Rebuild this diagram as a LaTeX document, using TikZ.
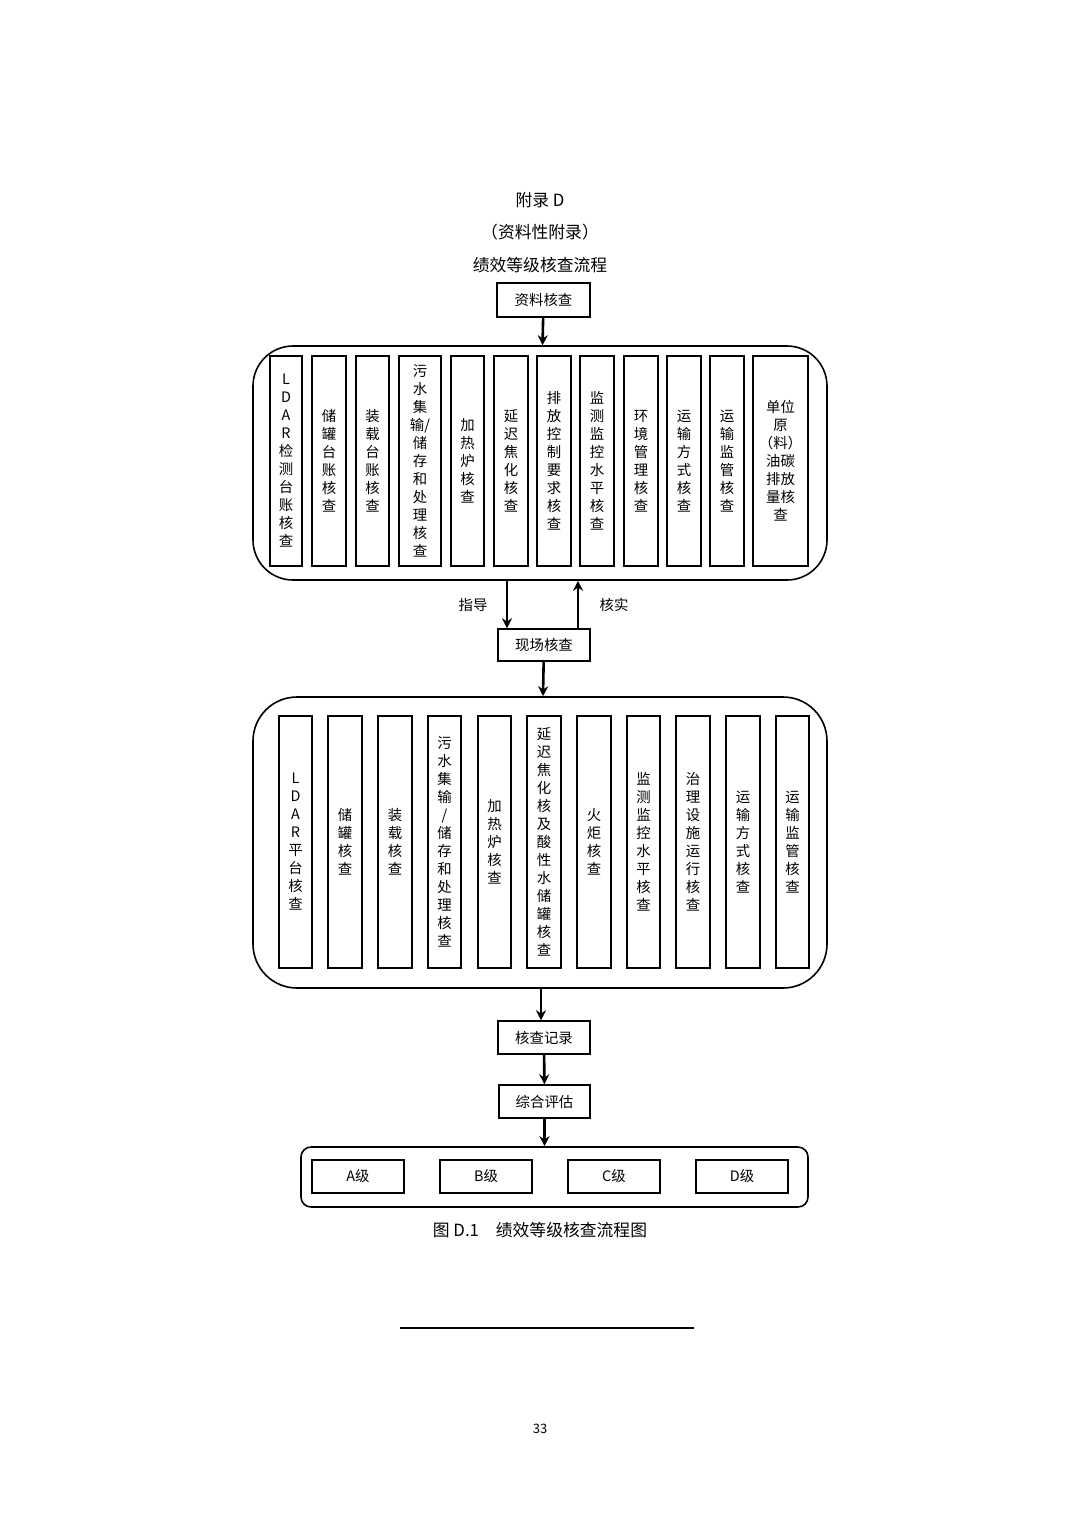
\documentclass[tikz,border=0pt]{standalone}
\usepackage{fontspec}
\setmainfont{Noto Sans CJK SC}
\usepackage{tikz}
\usetikzlibrary{arrows.meta}

\tikzset{
  box/.style={draw, line width=0.7pt, inner sep=0pt, font=\fontsize{7.2pt}{9pt}\selectfont},
  col/.style={box, align=center, text width=9pt},
  frame/.style={draw, line width=0.8pt, inner sep=0pt},
  arr/.style={line width=1.3pt, -{Stealth[length=5pt,width=5pt]}},
}

\begin{document}
\begin{tikzpicture}[x=0.5pt,y=-0.5pt]
\useasboundingbox (0,0) rectangle (1080,1527);

% titles
\node[font=\fontsize{8.4pt}{10pt}\selectfont] (ttl1) at (540,200) {附录 D};
\node[font=\fontsize{8.4pt}{10pt}\selectfont] (ttl2) at (540,232) {（资料性附录）};
\node[font=\fontsize{8.4pt}{10pt}\selectfont] (ttl3) at (540,265) {绩效等级核查流程};

% document check
\node[box, minimum width=46.5pt, minimum height=17pt] (ziliao) at (543.5,300) {资料核查};

% first group
\node[frame, rounded corners=20pt, minimum width=287pt, minimum height=117pt] (topbox) at (540,463) {};
\foreach \l/\r/\t [count=\i] in {
  270/302/{L\\D\\A\\R\\检\\测\\台\\账\\核\\查},
  312/346/{储\\罐\\台\\账\\核\\查},
  356/389/{装\\载\\台\\账\\核\\查},
  399/441/{污\\水\\集\\输/\\储\\存\\和\\处\\理\\核\\查},
  451/484/{加\\热\\炉\\核\\查},
  494/528/{延\\迟\\焦\\化\\核\\查},
  537/571/{排\\放\\控\\制\\要\\求\\核\\查},
  580/614/{监\\测\\监\\控\\水\\平\\核\\查},
  624/658/{环\\境\\管\\理\\核\\查},
  667/701/{运\\输\\方\\式\\核\\查},
  710/744/{运\\输\\监\\管\\核\\查},
  753/808/{单位\\原\\（料）\\油碳\\排放\\量核\\查}}
  \node[col, minimum width={(\r-\l)*0.5pt}, minimum height=105pt, text width={(\r-\l)*0.5pt-2pt}] (a\i) at ({(\l+\r)/2},461) {\t};

% site check
\node[box, minimum width=46pt, minimum height=16pt] (xianchang) at (544,645) {现场核查};
\draw[arr] (ziliao) -- (topbox);
\draw[arr] ([xshift=-16.5pt]topbox.south) -- ([xshift=-18.5pt]xianchang.north);
\draw[arr] ([xshift=17pt]xianchang.north) -- ([xshift=19pt]topbox.south);
\node[font=\fontsize{7.2pt}{9pt}\selectfont] (zhidao) at (473,605) {指导};
\node[font=\fontsize{7.2pt}{9pt}\selectfont] (heshi) at (614,605) {核实};

% second group
\node[frame, rounded corners=22pt, minimum width=287pt, minimum height=145.5pt] (botbox) at (540,842.5) {};
\foreach \l/\r/\t [count=\i] in {
  279/312/{L\\D\\A\\R\\平\\台\\核\\查},
  328/362/{储\\罐\\核\\查},
  378/412/{装\\载\\核\\查},
  428/461/{污\\水\\集\\输\\/\\储\\存\\和\\处\\理\\核\\查},
  478/511/{加\\热\\炉\\核\\查},
  527/561/{延\\迟\\焦\\化\\核\\及\\酸\\性\\水\\储\\罐\\核\\查},
  577/611/{火\\炬\\核\\查},
  627/660/{监\\测\\监\\控\\水\\平\\核\\查},
  676/710/{治\\理\\设\\施\\运\\行\\核\\查},
  726/760/{运\\输\\方\\式\\核\\查},
  776/809/{运\\输\\监\\管\\核\\查}}
  \node[col, minimum width={(\r-\l)*0.5pt}, minimum height=126pt, text width={(\r-\l)*0.5pt-2pt}] (b\i) at ({(\l+\r)/2},842) {\t};
\draw[arr] (xianchang) -- (botbox);

% record and evaluation
\node[box, minimum width=46pt, minimum height=16.5pt] (jilu) at (544,1037.5) {核查记录};
\node[box, minimum width=45.5pt, minimum height=16.5pt] (pinggu) at (544.5,1101.5) {综合评估};
\draw[arr] ([xshift=0.5pt]botbox.south) -- ([xshift=-1.5pt]jilu.north);
\draw[arr] (jilu) -- (pinggu);

% grades
\node[frame, rounded corners=5pt, minimum width=253.5pt, minimum height=30pt] (grades) at (554.5,1177) {};
\foreach \x/\g in {358/A, 486/B, 614/C, 742/D}
  \node[box, minimum width=46pt, minimum height=16.5pt] (g\g) at (\x,1176.5) {\g 级};
\draw[arr] (pinggu) -- (pinggu |- grades.north);

% caption and footer
\node[font=\fontsize{8.4pt}{10pt}\selectfont] (cap) at (540,1230) {图 D.1\quad 绩效等级核查流程图};
\draw[line width=0.6pt] (400,1328) -- (694,1328);
\node[font=\fontsize{6.5pt}{8pt}\selectfont] (page) at (540,1429) {33};
\end{tikzpicture}
\end{document}
